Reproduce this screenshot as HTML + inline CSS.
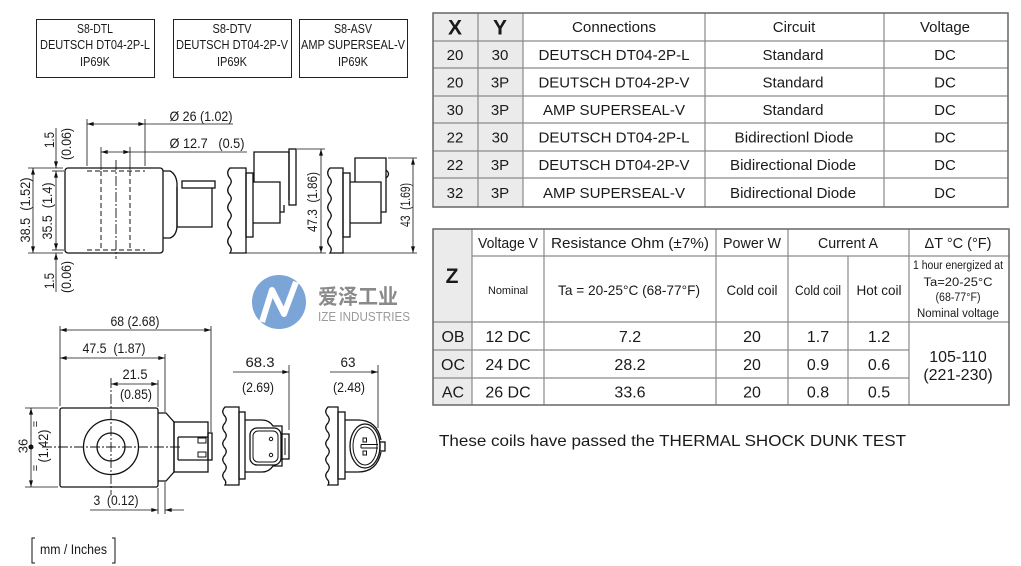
<!DOCTYPE html>
<html><head><meta charset="utf-8"><style>
html,body{margin:0;padding:0;background:#fff;}
svg{display:block;}
text{font-family:"Liberation Sans","Noto Sans CJK SC",Arial,sans-serif;fill:#1a1a1a;}
</style></head><body>
<svg width="1021" height="566" viewBox="0 0 1021 566" xmlns="http://www.w3.org/2000/svg">
<defs>
<marker id="a" viewBox="0 0 10 6" refX="10" refY="3" markerWidth="7" markerHeight="4" markerUnits="userSpaceOnUse" orient="auto-start-reverse"><path d="M0,0 L10,3 L0,6 z" fill="#111"/></marker>
<clipPath id="lc"><circle cx="279" cy="302" r="27"/></clipPath>
</defs>
<rect width="1021" height="566" fill="#fff"/>

<!-- top label boxes -->
<g fill="none" stroke="#222" stroke-width="1">
<rect x="36.5" y="19.5" width="118" height="58"/>
<rect x="173.5" y="19.5" width="118" height="58"/>
<rect x="299.5" y="19.5" width="108" height="58"/>
</g>
<g font-size="13" text-anchor="middle">
<text x="95" y="33" textLength="36" lengthAdjust="spacingAndGlyphs">S8-DTL</text>
<text x="95" y="49" textLength="110" lengthAdjust="spacingAndGlyphs">DEUTSCH DT04-2P-L</text>
<text x="95" y="66" textLength="30" lengthAdjust="spacingAndGlyphs">IP69K</text>
<text x="232" y="33" textLength="39" lengthAdjust="spacingAndGlyphs">S8-DTV</text>
<text x="232" y="49" textLength="112" lengthAdjust="spacingAndGlyphs">DEUTSCH DT04-2P-V</text>
<text x="232" y="66" textLength="30" lengthAdjust="spacingAndGlyphs">IP69K</text>
<text x="353" y="33" textLength="38" lengthAdjust="spacingAndGlyphs">S8-ASV</text>
<text x="353" y="49" textLength="104" lengthAdjust="spacingAndGlyphs">AMP SUPERSEAL-V</text>
<text x="353" y="66" textLength="30" lengthAdjust="spacingAndGlyphs">IP69K</text>
</g>

<!-- top side view coil -->
<g stroke="#111" stroke-width="1.3" fill="none">
<rect x="65" y="168" width="98" height="85" rx="3"/>
<path d="M163,171 H170 Q176,174 177,183 V227 Q176,236 170,238 H163"/>
<path d="M177,187 V227 H212 V188"/>
<rect x="182" y="181" width="33" height="7"/>
</g>
<g stroke="#111" stroke-width="1" stroke-dasharray="5,3" fill="none">
<line x1="101" y1="171" x2="101" y2="250"/>
<line x1="130" y1="171" x2="130" y2="250"/>
<line x1="87" y1="171" x2="145" y2="171"/>
<line x1="87" y1="250" x2="145" y2="250"/>
</g>
<line x1="116" y1="160" x2="116" y2="259" stroke="#111" stroke-width="0.9" stroke-dasharray="10,2,2,2"/>
<g stroke="#111" stroke-width="0.8" fill="none">
<line x1="87" y1="119" x2="87" y2="166"/>
<line x1="145" y1="119" x2="145" y2="166"/>
<line x1="87" y1="124" x2="145" y2="124" marker-start="url(#a)" marker-end="url(#a)"/>
<line x1="145" y1="124" x2="233" y2="124"/>
<line x1="101" y1="147" x2="101" y2="170"/>
<line x1="130" y1="147" x2="130" y2="170"/>
<line x1="101" y1="152" x2="130" y2="152" marker-start="url(#a)" marker-end="url(#a)"/>
<line x1="130" y1="152" x2="247" y2="152"/>
<line x1="28" y1="168" x2="63" y2="168"/>
<line x1="28" y1="253" x2="63" y2="253"/>
<line x1="52" y1="171" x2="64" y2="171"/>
<line x1="52" y1="250" x2="64" y2="250"/>
<line x1="33" y1="168" x2="33" y2="253" marker-start="url(#a)" marker-end="url(#a)"/>
<line x1="56" y1="171" x2="56" y2="250" marker-start="url(#a)" marker-end="url(#a)"/>
<line x1="56" y1="128" x2="56" y2="168" marker-end="url(#a)"/>
<line x1="56" y1="292" x2="56" y2="253" marker-end="url(#a)"/>
</g>
<g font-size="14" text-anchor="middle">
<text x="201" y="121" textLength="63" lengthAdjust="spacingAndGlyphs">Ø 26 (1.02)</text>
<text x="207" y="148" textLength="75" lengthAdjust="spacingAndGlyphs">Ø 12.7&#160;&#160;&#160;(0.5)</text>
<text transform="translate(25,210) rotate(-90)" dominant-baseline="central" textLength="65" lengthAdjust="spacingAndGlyphs">38.5&#160;&#160;(1.52)</text>
<text transform="translate(47,211) rotate(-90)" dominant-baseline="central" textLength="57" lengthAdjust="spacingAndGlyphs">35.5&#160;&#160;(1.4)</text>
<text transform="translate(49,140) rotate(-90)" dominant-baseline="central" textLength="16" lengthAdjust="spacingAndGlyphs">1.5</text>
<text transform="translate(66,144) rotate(-90)" dominant-baseline="central" textLength="32" lengthAdjust="spacingAndGlyphs">(0.06)</text>
<text transform="translate(49,281) rotate(-90)" dominant-baseline="central" textLength="16" lengthAdjust="spacingAndGlyphs">1.5</text>
<text transform="translate(66,277) rotate(-90)" dominant-baseline="central" textLength="32" lengthAdjust="spacingAndGlyphs">(0.06)</text>
</g>

<!-- top connector side views -->
<g stroke="#111" stroke-width="1.3" fill="none">
<path d="M230,168 Q226,172 229,177 Q233,181 230,185 Q226,190 229,194 Q233,198 230,202 Q226,207 229,211 Q233,215 230,219 Q226,224 229,228 Q233,232 230,236 Q226,241 229,245 Q233,249 230,253 L246,253 L246,168 Z"/>
<rect x="246" y="173" width="7" height="64"/>
<path d="M254,182 V152 H289 V200"/>
<rect x="289" y="149" width="7" height="56"/>
<path d="M253,182 H280 V223 H253"/>
<path d="M280,212 H284 V205"/>
<path d="M330,168 Q326,172 329,177 Q333,181 330,185 Q326,190 329,194 Q333,198 330,202 Q326,207 329,211 Q333,215 330,219 Q326,224 329,228 Q333,232 330,236 Q326,241 329,245 Q333,249 330,253 L343,253 L343,168 Z"/>
<rect x="343" y="173" width="7" height="64"/>
<path d="M355,182 V158 H386 V212 H381"/>
<path d="M386,170 Q391,174 386,178"/>
<path d="M350,182 H381 V223 H350"/>
</g>
<g stroke="#111" stroke-width="0.8" fill="none">
<line x1="297" y1="149" x2="325" y2="149"/>
<line x1="246" y1="253" x2="326" y2="253"/>
<line x1="321" y1="149" x2="321" y2="253" marker-start="url(#a)" marker-end="url(#a)"/>
<line x1="388" y1="158" x2="417" y2="158"/>
<line x1="343" y1="253" x2="417" y2="253"/>
<line x1="413" y1="158" x2="413" y2="253" marker-start="url(#a)" marker-end="url(#a)"/>
</g>
<g font-size="14" text-anchor="middle">
<text transform="translate(312,202) rotate(-90)" dominant-baseline="central" textLength="60" lengthAdjust="spacingAndGlyphs">47.3&#160;&#160;(1.86)</text>
<text transform="translate(405,205) rotate(-90)" dominant-baseline="central" textLength="44" lengthAdjust="spacingAndGlyphs">43&#160;&#160;(1.69)</text>
</g>

<!-- watermark logo -->
<circle cx="279" cy="302" r="27" fill="#6b9bd2" opacity="0.9"/>
<g clip-path="url(#lc)"><path d="M262,322 L272,290 L284,314 L296,282" stroke="#fff" stroke-width="6" fill="none" stroke-linejoin="round"/></g>
<text x="318" y="304" font-size="21" font-weight="bold" style="fill:#8a8a8a" textLength="80" lengthAdjust="spacingAndGlyphs">爱泽工业</text>
<text x="318" y="321" font-size="12.5" style="fill:#9a9a9a" textLength="92" lengthAdjust="spacingAndGlyphs">IZE INDUSTRIES</text>

<!-- bottom front view -->
<g stroke="#111" stroke-width="1.3" fill="none">
<rect x="60" y="408" width="98" height="79" rx="2"/>
<circle cx="111" cy="447" r="27.5"/>
<circle cx="111" cy="447" r="14"/>
<path d="M158,413 H166 L174,422 V472 L166,481 H158"/>
<rect x="174" y="422" width="34" height="50"/>
<path d="M178,437 V460 M178,437 H208 M178,460 H208"/>
<rect x="208" y="433" width="4" height="27"/>
<rect x="198" y="438" width="8" height="5" stroke-width="1"/>
<rect x="198" y="452" width="8" height="5" stroke-width="1"/>
</g>
<g stroke="#111" stroke-width="0.9" stroke-dasharray="10,2,2,2">
<line x1="42" y1="447" x2="180" y2="447"/>
<line x1="111" y1="378" x2="111" y2="495"/>
</g>
<g stroke="#111" stroke-width="0.8" fill="none">
<line x1="60" y1="326" x2="60" y2="406"/>
<line x1="211" y1="326" x2="211" y2="432"/>
<line x1="60" y1="330" x2="211" y2="330" marker-start="url(#a)" marker-end="url(#a)"/>
<line x1="60" y1="358" x2="165" y2="358" marker-start="url(#a)" marker-end="url(#a)"/>
<line x1="165" y1="354" x2="165" y2="412"/>
<line x1="165" y1="482" x2="165" y2="514"/>
<line x1="158" y1="380" x2="158" y2="407"/>
<line x1="158" y1="488" x2="158" y2="514"/>
<line x1="111" y1="384" x2="158" y2="384" marker-start="url(#a)" marker-end="url(#a)"/>
<line x1="90" y1="510" x2="158" y2="510" marker-end="url(#a)"/>
<line x1="184" y1="510" x2="165" y2="510" marker-end="url(#a)"/>
<line x1="25" y1="408" x2="58" y2="408"/>
<line x1="25" y1="487" x2="58" y2="487"/>
<line x1="31" y1="408" x2="31" y2="487" marker-start="url(#a)" marker-end="url(#a)"/>
</g>
<circle cx="31" cy="447" r="2.5" fill="#111"/>
<g font-size="14" text-anchor="middle">
<text x="135" y="326" textLength="49" lengthAdjust="spacingAndGlyphs">68 (2.68)</text>
<text x="114" y="353" textLength="63" lengthAdjust="spacingAndGlyphs">47.5&#160;&#160;(1.87)</text>
<text x="135" y="379" textLength="25" lengthAdjust="spacingAndGlyphs">21.5</text>
<text x="136" y="399" textLength="32" lengthAdjust="spacingAndGlyphs">(0.85)</text>
<text x="116" y="505" textLength="45" lengthAdjust="spacingAndGlyphs">3&#160;&#160;(0.12)</text>
<text transform="translate(23,446) rotate(-90)" dominant-baseline="central" font-size="13">36</text>
<text transform="translate(43,446) rotate(-90)" dominant-baseline="central" textLength="33" lengthAdjust="spacingAndGlyphs">(1.42)</text>
<text transform="translate(36,424) rotate(-90)" dominant-baseline="central" font-size="11">=</text>
<text transform="translate(36,468) rotate(-90)" dominant-baseline="central" font-size="11">=</text>
</g>

<!-- bottom end views -->
<g stroke="#111" stroke-width="1.3" fill="none">
<path d="M225,407 Q221,411 224,415 Q228,419 225,423 Q221,427 224,431 Q228,435 225,439 Q221,443 224,447 Q228,451 225,455 Q221,459 224,463 Q228,467 225,471 Q221,475 224,479 Q227,482 225,485 L239,485 L239,407 Z"/>
<rect x="239" y="412" width="6" height="67"/>
<path d="M245,420 H262 Q269,420 273,426 H282 V466 H273 Q269,472 262,472 H245"/>
<rect x="250" y="428" width="31" height="37" rx="7"/>
<rect x="253" y="431" width="25" height="31" rx="5" stroke-width="1"/>
<circle cx="271" cy="439" r="1.7" stroke-width="1"/>
<circle cx="271" cy="455" r="1.7" stroke-width="1"/>
<path d="M282,434 H289 V459 H282"/>
<path d="M285,438 V455" stroke-width="1"/>
<path d="M328,407 Q324,411 327,415 Q331,419 328,423 Q324,427 327,431 Q331,435 328,439 Q324,443 327,447 Q331,451 328,455 Q324,459 327,463 Q331,467 328,471 Q324,475 327,479 Q330,482 328,485 L338,485 L338,407 Z"/>
<rect x="338" y="412" width="7" height="67"/>
<path d="M345,420 H358 Q377,420 381,440 M345,472 H358 Q377,472 381,452"/>
<ellipse cx="365" cy="446" rx="15" ry="22"/>
<ellipse cx="365" cy="446" rx="12" ry="19" stroke-width="1"/>
<rect x="380" y="442" width="5" height="9"/>
<path d="M361,444.5 H378 M361,448 H378 M361,444.5 V448" stroke-width="1"/>
<rect x="363" y="438" width="3.5" height="4" stroke-width="1"/>
<rect x="363" y="451" width="3.5" height="4" stroke-width="1"/>
</g>
<g stroke="#111" stroke-width="0.8" fill="none">
<line x1="233" y1="372" x2="289" y2="372" marker-end="url(#a)"/>
<line x1="289" y1="365" x2="289" y2="430"/>
<line x1="330" y1="372" x2="378" y2="372" marker-end="url(#a)"/>
<line x1="378" y1="365" x2="378" y2="428"/>
</g>
<g font-size="14" text-anchor="middle">
<text x="260" y="367" textLength="29" lengthAdjust="spacingAndGlyphs">68.3</text>
<text x="258" y="392" textLength="32" lengthAdjust="spacingAndGlyphs">(2.69)</text>
<text x="348" y="367" textLength="15" lengthAdjust="spacingAndGlyphs">63</text>
<text x="349" y="392" textLength="32" lengthAdjust="spacingAndGlyphs">(2.48)</text>
</g>

<!-- units -->
<path d="M35,538 H32 V563 H35 M112,538 H115 V563 H112" stroke="#111" stroke-width="1" fill="none"/>
<text x="40" y="554" font-size="14" textLength="67" lengthAdjust="spacingAndGlyphs">mm / Inches</text>

<!-- TABLE 1 -->
<rect x="433" y="13" width="90" height="194" fill="#ebebeb"/>
<g stroke="#8a8a8a" stroke-width="1.2">
<line x1="433" y1="41" x2="1008" y2="41"/>
<line x1="433" y1="68" x2="1008" y2="68"/>
<line x1="433" y1="96" x2="1008" y2="96"/>
<line x1="433" y1="123" x2="1008" y2="123"/>
<line x1="433" y1="151" x2="1008" y2="151"/>
<line x1="433" y1="178" x2="1008" y2="178"/>
<line x1="478" y1="13" x2="478" y2="207"/>
<line x1="523" y1="13" x2="523" y2="207"/>
<line x1="705" y1="13" x2="705" y2="207"/>
<line x1="884" y1="13" x2="884" y2="207"/>
</g>
<rect x="433" y="13" width="575" height="194" fill="none" stroke="#666" stroke-width="1.5"/>
<g text-anchor="middle" font-size="15">
<text x="455" y="34.5" font-size="21" font-weight="bold">X</text>
<text x="500" y="34.5" font-size="21" font-weight="bold">Y</text>
<text x="614" y="32" textLength="84" lengthAdjust="spacingAndGlyphs">Connections</text>
<text x="794" y="32">Circuit</text>
<text x="945" y="32">Voltage</text>

<text x="455" y="60">20</text><text x="500" y="60">30</text><text x="614" y="60" textLength="151" lengthAdjust="spacingAndGlyphs">DEUTSCH DT04-2P-L</text><text x="793" y="60">Standard</text><text x="945" y="60">DC</text>
<text x="455" y="87.5">20</text><text x="500" y="87.5">3P</text><text x="614" y="87.5" textLength="151" lengthAdjust="spacingAndGlyphs">DEUTSCH DT04-2P-V</text><text x="793" y="87.5">Standard</text><text x="945" y="87.5">DC</text>
<text x="455" y="115">30</text><text x="500" y="115">3P</text><text x="614" y="115" textLength="142" lengthAdjust="spacingAndGlyphs">AMP SUPERSEAL-V</text><text x="793" y="115">Standard</text><text x="945" y="115">DC</text>
<text x="455" y="142.5">22</text><text x="500" y="142.5">30</text><text x="614" y="142.5" textLength="151" lengthAdjust="spacingAndGlyphs">DEUTSCH DT04-2P-L</text><text x="794" y="142.5" textLength="119" lengthAdjust="spacingAndGlyphs">Bidirectionl Diode</text><text x="945" y="142.5">DC</text>
<text x="455" y="170">22</text><text x="500" y="170">3P</text><text x="614" y="170" textLength="151" lengthAdjust="spacingAndGlyphs">DEUTSCH DT04-2P-V</text><text x="793" y="170" textLength="126" lengthAdjust="spacingAndGlyphs">Bidirectional Diode</text><text x="945" y="170">DC</text>
<text x="455" y="198">32</text><text x="500" y="198">3P</text><text x="614" y="198" textLength="142" lengthAdjust="spacingAndGlyphs">AMP SUPERSEAL-V</text><text x="793" y="198" textLength="126" lengthAdjust="spacingAndGlyphs">Bidirectional Diode</text><text x="945" y="198">DC</text>
</g>

<!-- TABLE 2 -->
<rect x="433" y="229" width="39" height="176" fill="#ebebeb"/>
<g stroke="#8a8a8a" stroke-width="1.2">
<line x1="472" y1="256" x2="1009" y2="256"/>
<line x1="433" y1="322" x2="1009" y2="322"/>
<line x1="433" y1="350" x2="909" y2="350"/>
<line x1="433" y1="378" x2="909" y2="378"/>
<line x1="472" y1="229" x2="472" y2="405"/>
<line x1="544" y1="229" x2="544" y2="405"/>
<line x1="716" y1="229" x2="716" y2="405"/>
<line x1="788" y1="229" x2="788" y2="405"/>
<line x1="848" y1="256" x2="848" y2="405"/>
<line x1="909" y1="229" x2="909" y2="405"/>
</g>
<rect x="433" y="229" width="576" height="176" fill="none" stroke="#666" stroke-width="1.5"/>
<g text-anchor="middle" font-size="15">
<text x="452" y="283" font-size="21" font-weight="bold">Z</text>
<text x="508" y="248" textLength="60" lengthAdjust="spacingAndGlyphs">Voltage V</text>
<text x="630" y="248" textLength="158" lengthAdjust="spacingAndGlyphs">Resistance Ohm (±7%)</text>
<text x="752" y="248" textLength="58" lengthAdjust="spacingAndGlyphs">Power W</text>
<text x="848" y="248" textLength="60" lengthAdjust="spacingAndGlyphs">Current A</text>
<text x="958" y="248" textLength="67" lengthAdjust="spacingAndGlyphs">ΔT °C (°F)</text>

<text x="508" y="294" font-size="11" textLength="40" lengthAdjust="spacingAndGlyphs">Nominal</text>
<text x="629" y="295" font-size="14" textLength="142" lengthAdjust="spacingAndGlyphs">Ta = 20-25°C (68-77°F)</text>
<text x="752" y="295" font-size="14" textLength="51" lengthAdjust="spacingAndGlyphs">Cold coil</text>
<text x="818" y="295" font-size="14" textLength="46" lengthAdjust="spacingAndGlyphs">Cold coil</text>
<text x="879" y="295" font-size="14" textLength="45" lengthAdjust="spacingAndGlyphs">Hot coil</text>
<text x="958" y="269" font-size="11.5" textLength="90" lengthAdjust="spacingAndGlyphs">1 hour energized at</text>
<text x="958" y="286" font-size="11.5" textLength="69" lengthAdjust="spacingAndGlyphs">Ta=20-25°C</text>
<text x="958" y="301" font-size="11.5" textLength="45" lengthAdjust="spacingAndGlyphs">(68-77°F)</text>
<text x="958" y="317" font-size="11.5" textLength="82" lengthAdjust="spacingAndGlyphs">Nominal voltage</text>
</g>
<g text-anchor="middle" font-size="16">
<text x="453" y="342">OB</text><text x="508" y="342">12 DC</text><text x="630" y="342">7.2</text><text x="752" y="342">20</text><text x="818" y="342">1.7</text><text x="879" y="342">1.2</text>
<text x="453" y="370">OC</text><text x="508" y="370">24 DC</text><text x="630" y="370">28.2</text><text x="752" y="370">20</text><text x="818" y="370">0.9</text><text x="879" y="370">0.6</text>
<text x="453" y="397.5">AC</text><text x="508" y="397.5">26 DC</text><text x="630" y="397.5">33.6</text><text x="752" y="397.5">20</text><text x="818" y="397.5">0.8</text><text x="879" y="397.5">0.5</text>
<text x="958" y="362">105-110</text>
<text x="958" y="380">(221-230)</text>
</g>

<text x="439" y="446" font-size="16" textLength="467" lengthAdjust="spacingAndGlyphs">These coils have passed the THERMAL SHOCK DUNK TEST</text>
</svg>
</body></html>
